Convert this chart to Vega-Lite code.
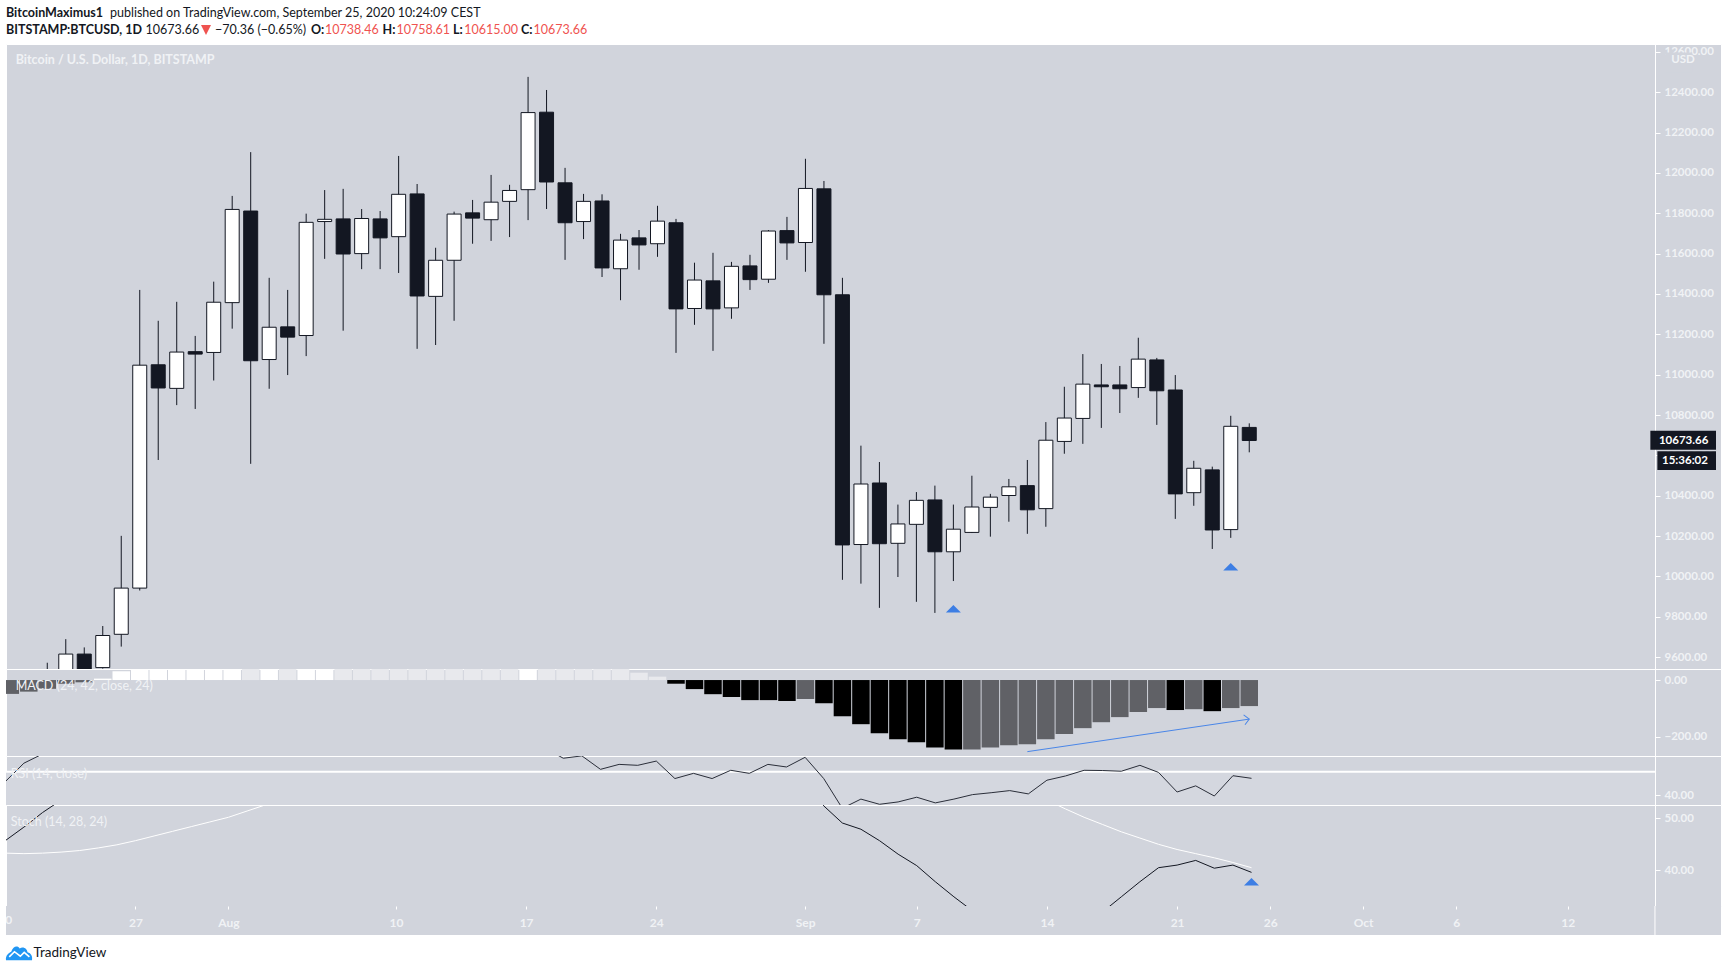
{
  "$schema": "https://vega.github.io/schema/vega-lite/v6.json",
  "background": "#ffffff",
  "padding": {"left": 1, "top": 0, "right": 7, "bottom": 0},
  "spacing": 0,
  "bounds": "flush",
  "datasets": {
    "candles": [
      {"date": "2020-07-22", "open": 9480, "high": 9572, "low": 9450, "close": 9500},
      {"date": "2020-07-23", "open": 9500, "high": 9689, "low": 9470, "close": 9615},
      {"date": "2020-07-24", "open": 9615, "high": 9648, "low": 9400, "close": 9430},
      {"date": "2020-07-25", "open": 9548, "high": 9754, "low": 9543, "close": 9707},
      {"date": "2020-07-26", "open": 9713, "high": 10201, "low": 9652, "close": 9942},
      {"date": "2020-07-27", "open": 9942, "high": 11420, "low": 9930, "close": 11047},
      {"date": "2020-07-28", "open": 11049, "high": 11267, "low": 10577, "close": 10934},
      {"date": "2020-07-29", "open": 10932, "high": 11361, "low": 10849, "close": 11112},
      {"date": "2020-07-30", "open": 11114, "high": 11192, "low": 10830, "close": 11102},
      {"date": "2020-07-31", "open": 11110, "high": 11461, "low": 10971, "close": 11359},
      {"date": "2020-08-01", "open": 11357, "high": 11886, "low": 11228, "close": 11819},
      {"date": "2020-08-02", "open": 11811, "high": 12103, "low": 10558, "close": 11069},
      {"date": "2020-08-03", "open": 11075, "high": 11480, "low": 10930, "close": 11235},
      {"date": "2020-08-04", "open": 11237, "high": 11420, "low": 10998, "close": 11186},
      {"date": "2020-08-05", "open": 11194, "high": 11798, "low": 11092, "close": 11755},
      {"date": "2020-08-06", "open": 11759, "high": 11915, "low": 11574, "close": 11770},
      {"date": "2020-08-07", "open": 11772, "high": 11921, "low": 11218, "close": 11598},
      {"date": "2020-08-08", "open": 11600, "high": 11821, "low": 11523, "close": 11774},
      {"date": "2020-08-09", "open": 11772, "high": 11811, "low": 11523, "close": 11678},
      {"date": "2020-08-10", "open": 11684, "high": 12084, "low": 11504, "close": 11894},
      {"date": "2020-08-11", "open": 11896, "high": 11945, "low": 11128, "close": 11390},
      {"date": "2020-08-12", "open": 11388, "high": 11629, "low": 11147, "close": 11567},
      {"date": "2020-08-13", "open": 11567, "high": 11808, "low": 11267, "close": 11796},
      {"date": "2020-08-14", "open": 11802, "high": 11866, "low": 11649, "close": 11776},
      {"date": "2020-08-15", "open": 11768, "high": 11990, "low": 11663, "close": 11855},
      {"date": "2020-08-16", "open": 11859, "high": 11941, "low": 11682, "close": 11913},
      {"date": "2020-08-17", "open": 11917, "high": 12476, "low": 11766, "close": 12299},
      {"date": "2020-08-18", "open": 12301, "high": 12411, "low": 11821, "close": 11955},
      {"date": "2020-08-19", "open": 11951, "high": 12025, "low": 11569, "close": 11753},
      {"date": "2020-08-20", "open": 11759, "high": 11896, "low": 11672, "close": 11859},
      {"date": "2020-08-21", "open": 11861, "high": 11894, "low": 11484, "close": 11529},
      {"date": "2020-08-22", "open": 11525, "high": 11698, "low": 11369, "close": 11667},
      {"date": "2020-08-23", "open": 11678, "high": 11717, "low": 11520, "close": 11643},
      {"date": "2020-08-24", "open": 11649, "high": 11837, "low": 11584, "close": 11761},
      {"date": "2020-08-25", "open": 11753, "high": 11772, "low": 11108, "close": 11326},
      {"date": "2020-08-26", "open": 11328, "high": 11555, "low": 11247, "close": 11469},
      {"date": "2020-08-27", "open": 11465, "high": 11604, "low": 11118, "close": 11326},
      {"date": "2020-08-28", "open": 11331, "high": 11559, "low": 11277, "close": 11537},
      {"date": "2020-08-29", "open": 11539, "high": 11594, "low": 11420, "close": 11471},
      {"date": "2020-08-30", "open": 11473, "high": 11717, "low": 11455, "close": 11712},
      {"date": "2020-08-31", "open": 11714, "high": 11782, "low": 11569, "close": 11653},
      {"date": "2020-09-01", "open": 11655, "high": 12070, "low": 11510, "close": 11923},
      {"date": "2020-09-02", "open": 11921, "high": 11960, "low": 11153, "close": 11396},
      {"date": "2020-09-03", "open": 11396, "high": 11480, "low": 9983, "close": 10156},
      {"date": "2020-09-04", "open": 10158, "high": 10648, "low": 9964, "close": 10458},
      {"date": "2020-09-05", "open": 10463, "high": 10567, "low": 9844, "close": 10162},
      {"date": "2020-09-06", "open": 10164, "high": 10356, "low": 9997, "close": 10260},
      {"date": "2020-09-07", "open": 10258, "high": 10418, "low": 9874, "close": 10377},
      {"date": "2020-09-08", "open": 10379, "high": 10450, "low": 9819, "close": 10122},
      {"date": "2020-09-09", "open": 10122, "high": 10356, "low": 9977, "close": 10234},
      {"date": "2020-09-10", "open": 10218, "high": 10499, "low": 10215, "close": 10344},
      {"date": "2020-09-11", "open": 10342, "high": 10409, "low": 10197, "close": 10393},
      {"date": "2020-09-12", "open": 10401, "high": 10483, "low": 10271, "close": 10444},
      {"date": "2020-09-13", "open": 10450, "high": 10577, "low": 10211, "close": 10330},
      {"date": "2020-09-14", "open": 10336, "high": 10765, "low": 10246, "close": 10675},
      {"date": "2020-09-15", "open": 10669, "high": 10940, "low": 10608, "close": 10785},
      {"date": "2020-09-16", "open": 10783, "high": 11102, "low": 10657, "close": 10953},
      {"date": "2020-09-17", "open": 10949, "high": 11053, "low": 10736, "close": 10940},
      {"date": "2020-09-18", "open": 10949, "high": 11043, "low": 10810, "close": 10930},
      {"date": "2020-09-19", "open": 10936, "high": 11183, "low": 10885, "close": 11077},
      {"date": "2020-09-20", "open": 11073, "high": 11083, "low": 10751, "close": 10920},
      {"date": "2020-09-21", "open": 10924, "high": 10998, "low": 10285, "close": 10409},
      {"date": "2020-09-22", "open": 10415, "high": 10573, "low": 10350, "close": 10536},
      {"date": "2020-09-23", "open": 10528, "high": 10544, "low": 10136, "close": 10230},
      {"date": "2020-09-24", "open": 10232, "high": 10796, "low": 10191, "close": 10744},
      {"date": "2020-09-25", "open": 10738.46, "high": 10758.61, "low": 10615, "close": 10673.66}
    ],
    "macd": [
      {"date": "2020-07-20", "hist": -49, "state": "neg_up"},
      {"date": "2020-07-21", "hist": -41, "state": "neg_up"},
      {"date": "2020-07-22", "hist": -31, "state": "neg_up"},
      {"date": "2020-07-23", "hist": -13, "state": "neg_up"},
      {"date": "2020-07-24", "hist": -8, "state": "neg_up"},
      {"date": "2020-07-25", "hist": 5, "state": "pos_up"},
      {"date": "2020-07-26", "hist": 31, "state": "pos_up"},
      {"date": "2020-07-27", "hist": 60, "state": "pos_up"},
      {"date": "2020-07-28", "hist": 70, "state": "pos_up"},
      {"date": "2020-07-29", "hist": 80, "state": "pos_up"},
      {"date": "2020-07-30", "hist": 90, "state": "pos_up"},
      {"date": "2020-07-31", "hist": 100, "state": "pos_up"},
      {"date": "2020-08-01", "hist": 110, "state": "pos_up"},
      {"date": "2020-08-02", "hist": 105, "state": "pos_down"},
      {"date": "2020-08-03", "hist": 108, "state": "pos_up"},
      {"date": "2020-08-04", "hist": 104, "state": "pos_down"},
      {"date": "2020-08-05", "hist": 110, "state": "pos_up"},
      {"date": "2020-08-06", "hist": 114, "state": "pos_up"},
      {"date": "2020-08-07", "hist": 110, "state": "pos_down"},
      {"date": "2020-08-08", "hist": 106, "state": "pos_down"},
      {"date": "2020-08-09", "hist": 100, "state": "pos_down"},
      {"date": "2020-08-10", "hist": 96, "state": "pos_down"},
      {"date": "2020-08-11", "hist": 90, "state": "pos_down"},
      {"date": "2020-08-12", "hist": 84, "state": "pos_down"},
      {"date": "2020-08-13", "hist": 78, "state": "pos_down"},
      {"date": "2020-08-14", "hist": 72, "state": "pos_down"},
      {"date": "2020-08-15", "hist": 68, "state": "pos_down"},
      {"date": "2020-08-16", "hist": 64, "state": "pos_down"},
      {"date": "2020-08-17", "hist": 70, "state": "pos_up"},
      {"date": "2020-08-18", "hist": 66, "state": "pos_down"},
      {"date": "2020-08-19", "hist": 60, "state": "pos_down"},
      {"date": "2020-08-20", "hist": 55, "state": "pos_down"},
      {"date": "2020-08-21", "hist": 44, "state": "pos_down"},
      {"date": "2020-08-22", "hist": 39, "state": "pos_down"},
      {"date": "2020-08-23", "hist": 26, "state": "pos_down"},
      {"date": "2020-08-24", "hist": 12, "state": "pos_down"},
      {"date": "2020-08-25", "hist": -13, "state": "neg_down"},
      {"date": "2020-08-26", "hist": -32, "state": "neg_down"},
      {"date": "2020-08-27", "hist": -50, "state": "neg_down"},
      {"date": "2020-08-28", "hist": -60, "state": "neg_down"},
      {"date": "2020-08-29", "hist": -71, "state": "neg_down"},
      {"date": "2020-08-30", "hist": -71, "state": "neg_down"},
      {"date": "2020-08-31", "hist": -74, "state": "neg_down"},
      {"date": "2020-09-01", "hist": -67, "state": "neg_up"},
      {"date": "2020-09-02", "hist": -82, "state": "neg_down"},
      {"date": "2020-09-03", "hist": -128, "state": "neg_down"},
      {"date": "2020-09-04", "hist": -156, "state": "neg_down"},
      {"date": "2020-09-05", "hist": -188, "state": "neg_down"},
      {"date": "2020-09-06", "hist": -209, "state": "neg_down"},
      {"date": "2020-09-07", "hist": -220, "state": "neg_down"},
      {"date": "2020-09-08", "hist": -238, "state": "neg_down"},
      {"date": "2020-09-09", "hist": -245, "state": "neg_down"},
      {"date": "2020-09-10", "hist": -245, "state": "neg_up"},
      {"date": "2020-09-11", "hist": -238, "state": "neg_up"},
      {"date": "2020-09-12", "hist": -230, "state": "neg_up"},
      {"date": "2020-09-13", "hist": -227, "state": "neg_up"},
      {"date": "2020-09-14", "hist": -209, "state": "neg_up"},
      {"date": "2020-09-15", "hist": -191, "state": "neg_up"},
      {"date": "2020-09-16", "hist": -170, "state": "neg_up"},
      {"date": "2020-09-17", "hist": -149, "state": "neg_up"},
      {"date": "2020-09-18", "hist": -131, "state": "neg_up"},
      {"date": "2020-09-19", "hist": -113, "state": "neg_up"},
      {"date": "2020-09-20", "hist": -99, "state": "neg_up"},
      {"date": "2020-09-21", "hist": -106, "state": "neg_down"},
      {"date": "2020-09-22", "hist": -103, "state": "neg_up"},
      {"date": "2020-09-23", "hist": -110, "state": "neg_down"},
      {"date": "2020-09-24", "hist": -99, "state": "neg_up"},
      {"date": "2020-09-25", "hist": -92, "state": "neg_up"}
    ],
    "osc": [
      {"date": "2020-07-20", "rsi": 45.8, "k": 45.7, "d": 43.3},
      {"date": "2020-07-21", "rsi": 53.6, "k": 48.3, "d": 43.2},
      {"date": "2020-07-22", "rsi": 57.5, "k": 51.1, "d": 43.3},
      {"date": "2020-07-23", "rsi": 60, "k": 53.5, "d": 43.5},
      {"date": "2020-07-24", "rsi": 61, "k": 56, "d": 43.8},
      {"date": "2020-07-25", "rsi": 62, "k": 60, "d": 44.3},
      {"date": "2020-07-26", "rsi": 64, "k": 64, "d": 44.9},
      {"date": "2020-07-27", "rsi": 72, "k": 72, "d": 45.7},
      {"date": "2020-07-28", "rsi": 70, "k": 74, "d": 46.6},
      {"date": "2020-07-29", "rsi": 71, "k": 76, "d": 47.5},
      {"date": "2020-07-30", "rsi": 71, "k": 77, "d": 48.4},
      {"date": "2020-07-31", "rsi": 72, "k": 78, "d": 49.3},
      {"date": "2020-08-01", "rsi": 74, "k": 82, "d": 50.2},
      {"date": "2020-08-02", "rsi": 66, "k": 80, "d": 51.4},
      {"date": "2020-08-03", "rsi": 67, "k": 80, "d": 52.6},
      {"date": "2020-08-04", "rsi": 65, "k": 79, "d": 54},
      {"date": "2020-08-05", "rsi": 70, "k": 80, "d": 56},
      {"date": "2020-08-06", "rsi": 70, "k": 82, "d": 58},
      {"date": "2020-08-07", "rsi": 66, "k": 81, "d": 60},
      {"date": "2020-08-08", "rsi": 67, "k": 81, "d": 62},
      {"date": "2020-08-09", "rsi": 66, "k": 80, "d": 64},
      {"date": "2020-08-10", "rsi": 68, "k": 82, "d": 66},
      {"date": "2020-08-11", "rsi": 62, "k": 79, "d": 67},
      {"date": "2020-08-12", "rsi": 64, "k": 78, "d": 68},
      {"date": "2020-08-13", "rsi": 66, "k": 79, "d": 69},
      {"date": "2020-08-14", "rsi": 65, "k": 80, "d": 70},
      {"date": "2020-08-15", "rsi": 66, "k": 82, "d": 71},
      {"date": "2020-08-16", "rsi": 67, "k": 83, "d": 72},
      {"date": "2020-08-17", "rsi": 70, "k": 85, "d": 73},
      {"date": "2020-08-18", "rsi": 60, "k": 84, "d": 74},
      {"date": "2020-08-19", "rsi": 55.7, "k": 82, "d": 74},
      {"date": "2020-08-20", "rsi": 56.7, "k": 80, "d": 75},
      {"date": "2020-08-21", "rsi": 51, "k": 77, "d": 75},
      {"date": "2020-08-22", "rsi": 53.1, "k": 75, "d": 75},
      {"date": "2020-08-23", "rsi": 52.7, "k": 73, "d": 75},
      {"date": "2020-08-24", "rsi": 54.5, "k": 72, "d": 75},
      {"date": "2020-08-25", "rsi": 47.1, "k": 69, "d": 75},
      {"date": "2020-08-26", "rsi": 49.3, "k": 67, "d": 74},
      {"date": "2020-08-27", "rsi": 47.1, "k": 65, "d": 74},
      {"date": "2020-08-28", "rsi": 50.6, "k": 64, "d": 74},
      {"date": "2020-08-29", "rsi": 49.3, "k": 63, "d": 73},
      {"date": "2020-08-30", "rsi": 53.1, "k": 63, "d": 73},
      {"date": "2020-08-31", "rsi": 52, "k": 62, "d": 72},
      {"date": "2020-09-01", "rsi": 56.1, "k": 60, "d": 72},
      {"date": "2020-09-02", "rsi": 47.1, "k": 52.4, "d": 71},
      {"date": "2020-09-03", "rsi": 34.5, "k": 49.1, "d": 70},
      {"date": "2020-09-04", "rsi": 38.4, "k": 47.9, "d": 69},
      {"date": "2020-09-05", "rsi": 36.2, "k": 45.7, "d": 68},
      {"date": "2020-09-06", "rsi": 37.2, "k": 43.1, "d": 67},
      {"date": "2020-09-07", "rsi": 39.2, "k": 40.9, "d": 66},
      {"date": "2020-09-08", "rsi": 36.8, "k": 37.8, "d": 65},
      {"date": "2020-09-09", "rsi": 38.4, "k": 34.9, "d": 64},
      {"date": "2020-09-10", "rsi": 40.3, "k": 32.2, "d": 63},
      {"date": "2020-09-11", "rsi": 41.1, "k": 31, "d": 62},
      {"date": "2020-09-12", "rsi": 42, "k": 30, "d": 60},
      {"date": "2020-09-13", "rsi": 40.6, "k": 30, "d": 57},
      {"date": "2020-09-14", "rsi": 46.4, "k": 30, "d": 53.5},
      {"date": "2020-09-15", "rsi": 48.2, "k": 30, "d": 51.8},
      {"date": "2020-09-16", "rsi": 50.6, "k": 30, "d": 50.2},
      {"date": "2020-09-17", "rsi": 50.5, "k": 32, "d": 48.8},
      {"date": "2020-09-18", "rsi": 50.2, "k": 34.9, "d": 47.4},
      {"date": "2020-09-19", "rsi": 52.7, "k": 37.8, "d": 46.2},
      {"date": "2020-09-20", "rsi": 49.7, "k": 40.5, "d": 45},
      {"date": "2020-09-21", "rsi": 41.4, "k": 41, "d": 44},
      {"date": "2020-09-22", "rsi": 44, "k": 41.9, "d": 43.2},
      {"date": "2020-09-23", "rsi": 39.7, "k": 40.4, "d": 42.4},
      {"date": "2020-09-24", "rsi": 48.3, "k": 41, "d": 41.5},
      {"date": "2020-09-25", "rsi": 47.2, "k": 39.6, "d": 40.5}
    ]
  },
  "vconcat": [
    {
      "width": 1715,
      "height": 44,
      "view": {"fill": null, "stroke": null},
      "data": {"values": [{}]},
      "encoding": {
        "x": {"datum": 6, "type": "quantitative", "scale": {"domain": [6, 1721]}, "axis": null},
        "y": {"datum": 13, "type": "quantitative", "scale": {"domain": [44, 0]}, "axis": null}
      },
      "layer": [
        {"mark": {"type": "text", "align": "left", "font": "Lato", "fontSize": 12.5, "fontWeight": "bold", "color": "#131722", "text": "BitcoinMaximus1"}, "encoding": {"x": {"datum": 6}, "y": {"datum": 13}}},
        {"mark": {"type": "text", "align": "left", "font": "Lato", "fontSize": 12.5, "color": "#131722", "text": "published on TradingView.com, September 25, 2020 10:24:09 CEST"}, "encoding": {"x": {"datum": 110}, "y": {"datum": 13}}},
        {"mark": {"type": "text", "align": "left", "font": "Lato", "fontSize": 12.5, "fontWeight": "bold", "color": "#131722", "text": "BITSTAMP:BTCUSD, 1D"}, "encoding": {"x": {"datum": 6}, "y": {"datum": 30}}},
        {"mark": {"type": "text", "align": "left", "font": "Lato", "fontSize": 12.5, "color": "#131722", "text": "10673.66"}, "encoding": {"x": {"datum": 145.5}, "y": {"datum": 30}}},
        {"mark": {"type": "point", "filled": true, "opacity": 1, "color": "#ef5350", "shape": "M-1,-1L1,-1L0,1Z", "size": 100}, "encoding": {"x": {"datum": 206}, "y": {"datum": 30}}},
        {"mark": {"type": "text", "align": "left", "font": "Lato", "fontSize": 12.5, "color": "#131722", "text": "−70.36 (−0.65%)"}, "encoding": {"x": {"datum": 215}, "y": {"datum": 30}}},
        {"mark": {"type": "text", "align": "left", "font": "Lato", "fontSize": 12.5, "fontWeight": "bold", "color": "#131722", "text": "O:"}, "encoding": {"x": {"datum": 311}, "y": {"datum": 30}}},
        {"mark": {"type": "text", "align": "left", "font": "Lato", "fontSize": 12.5, "color": "#ef5350", "text": "10738.46"}, "encoding": {"x": {"datum": 325}, "y": {"datum": 30}}},
        {"mark": {"type": "text", "align": "left", "font": "Lato", "fontSize": 12.5, "fontWeight": "bold", "color": "#131722", "text": "H:"}, "encoding": {"x": {"datum": 382.6}, "y": {"datum": 30}}},
        {"mark": {"type": "text", "align": "left", "font": "Lato", "fontSize": 12.5, "color": "#ef5350", "text": "10758.61"}, "encoding": {"x": {"datum": 396.4}, "y": {"datum": 30}}},
        {"mark": {"type": "text", "align": "left", "font": "Lato", "fontSize": 12.5, "fontWeight": "bold", "color": "#131722", "text": "L:"}, "encoding": {"x": {"datum": 453}, "y": {"datum": 30}}},
        {"mark": {"type": "text", "align": "left", "font": "Lato", "fontSize": 12.5, "color": "#ef5350", "text": "10615.00"}, "encoding": {"x": {"datum": 464.3}, "y": {"datum": 30}}},
        {"mark": {"type": "text", "align": "left", "font": "Lato", "fontSize": 12.5, "fontWeight": "bold", "color": "#131722", "text": "C:"}, "encoding": {"x": {"datum": 521}, "y": {"datum": 30}}},
        {"mark": {"type": "text", "align": "left", "font": "Lato", "fontSize": 12.5, "color": "#ef5350", "text": "10673.66"}, "encoding": {"x": {"datum": 533.5}, "y": {"datum": 30}}}
      ]
    },
    {
      "width": 1715,
      "height": 625,
      "view": {"fill": "#d1d4dc", "stroke": "#ffffff", "strokeWidth": 1},
      "layer": [
        {
          "data": {"name": "candles"},
          "mark": {"type": "rule", "color": "#131722", "strokeWidth": 1, "clip": true},
          "encoding": {
            "x": {"field": "date", "type": "temporal", "scale": {"type": "utc", "domain": ["2020-07-20T00:55:00Z", "2020-10-20T05:46:00Z"]}, "axis": null},
            "y": {
              "field": "low",
              "type": "quantitative",
              "scale": {"domain": [9541, 12639], "nice": false, "zero": false},
              "axis": {
                "orient": "right",
                "offset": -66,
                "title": null,
                "grid": false,
                "values": [9600, 9800, 10000, 10200, 10400, 10600, 10800, 11000, 11200, 11400, 11600, 11800, 12000, 12200, 12400, 12600],
                "format": ".2f",
                "domainColor": "#ffffff",
                "tickColor": "#ffffff",
                "tickSize": 5,
                "labelColor": "#f0f2f5",
                "labelFont": "Lato",
                "labelFontSize": 11.5,
                "labelFontWeight": "bold",
                "labelPadding": 4,
                "labelOverlap": false,
                "labelFlush": false
              }
            },
            "y2": {"field": "high"}
          }
        },
        {
          "data": {"name": "candles"},
          "mark": {"type": "bar", "size": 14, "stroke": "#131722", "strokeWidth": 1, "clip": true},
          "encoding": {
            "x": {"field": "date", "type": "temporal"},
            "y": {"field": "open", "type": "quantitative"},
            "y2": {"field": "close"},
            "color": {"condition": {"test": "datum.close >= datum.open", "value": "#ffffff"}, "value": "#131722"}
          }
        },
        {
          "data": {"values": [{"date": "2020-09-09", "price": 9840}, {"date": "2020-09-24", "price": 10048}]},
          "mark": {"type": "point", "filled": true, "opacity": 1, "color": "#3d7ee4", "shape": "M-1,0.5L0,-0.5L1,0.5Z", "size": 225},
          "encoding": {
            "x": {"field": "date", "type": "temporal"},
            "y": {"field": "price", "type": "quantitative"}
          }
        },
        {
          "data": {"values": [{"date": "2020-07-20T07:00:00Z", "price": 12560, "label": "Bitcoin / U.S. Dollar, 1D, BITSTAMP"}]},
          "mark": {"type": "text", "align": "left", "font": "Lato", "fontSize": 12.5, "fontWeight": "bold", "color": "#f0f2f5"},
          "encoding": {
            "x": {"field": "date", "type": "temporal"},
            "y": {"field": "price", "type": "quantitative"},
            "text": {"field": "label"}
          }
        },
        {
          "data": {"values": [
            {"date": "2020-10-17T12:00:00Z", "date2": "2020-10-18T23:00:00Z", "p": 12597, "p2": 12500},
            {"date": "2020-10-16T16:34:00Z", "date2": "2020-10-20T05:46:00Z", "p": 10722, "p2": 10628},
            {"date": "2020-10-17T01:40:00Z", "date2": "2020-10-20T05:46:00Z", "p": 10620, "p2": 10528}
          ]},
          "mark": {"type": "rect"},
          "encoding": {
            "x": {"field": "date", "type": "temporal"},
            "x2": {"field": "date2"},
            "y": {"field": "p", "type": "quantitative"},
            "y2": {"field": "p2"},
            "color": {"condition": {"test": "datum.p > 12000", "value": "#d1d4dc"}, "value": "#131722"}
          }
        },
        {
          "data": {"values": [
            {"date": "2020-10-18T11:00:00Z", "price": 12558, "label": "USD", "w": "soft"},
            {"date": "2020-10-18T11:45:00Z", "price": 10670, "label": "10673.66", "w": "box"},
            {"date": "2020-10-18T13:30:00Z", "price": 10571, "label": "15:36:02", "w": "box"}
          ]},
          "mark": {"type": "text", "align": "center", "font": "Lato", "fontSize": 11.5, "fontWeight": "bold"},
          "encoding": {
            "x": {"field": "date", "type": "temporal"},
            "y": {"field": "price", "type": "quantitative"},
            "text": {"field": "label"},
            "color": {"condition": {"test": "datum.w == 'soft'", "value": "#f0f2f5"}, "value": "#ffffff"}
          }
        }
      ]
    },
    {
      "width": 1715,
      "height": 87,
      "view": {"fill": "#d1d4dc", "stroke": "#ffffff", "strokeWidth": 1},
      "layer": [
        {
          "data": {"name": "macd"},
          "mark": {"type": "bar", "size": 17.5, "clip": true},
          "encoding": {
            "x": {"field": "date", "type": "temporal", "scale": {"type": "utc", "domain": ["2020-07-20T00:55:00Z", "2020-10-20T05:46:00Z"]}, "axis": null},
            "y": {
              "field": "hist",
              "type": "quantitative",
              "stack": null,
              "scale": {"domain": [-268.4, 39], "nice": false},
              "axis": {
                "orient": "right",
                "offset": -66,
                "title": null,
                "grid": false,
                "values": [0, -200],
                "format": ".2f",
                "domainColor": "#ffffff",
                "tickColor": "#ffffff",
                "tickSize": 5,
                "labelColor": "#f0f2f5",
                "labelFont": "Lato",
                "labelFontSize": 11.5,
                "labelFontWeight": "bold",
                "labelPadding": 4
              }
            },
            "color": {
              "field": "state",
              "type": "nominal",
              "legend": null,
              "scale": {"domain": ["pos_up", "pos_down", "neg_down", "neg_up"], "range": ["#ffffff", "#e8e9ed", "#000000", "#606166"]}
            }
          }
        },
        {
          "data": {"values": [{"date": "2020-09-13", "v": -253}, {"date": "2020-09-25", "v": -138}]},
          "mark": {"type": "line", "color": "#4a86e8", "strokeWidth": 1},
          "encoding": {
            "x": {"field": "date", "type": "temporal"},
            "y": {"field": "v", "type": "quantitative"}
          }
        },
        {
          "data": {"values": [{"date": "2020-09-25", "v": -138}]},
          "mark": {"type": "point", "filled": false, "opacity": 1, "color": "#4a86e8", "strokeWidth": 1, "shape": "M-1,-1L0,0L-1,1", "size": 100, "angle": -8},
          "encoding": {
            "x": {"field": "date", "type": "temporal"},
            "y": {"field": "v", "type": "quantitative"}
          }
        },
        {
          "data": {"values": [{"date": "2020-07-20T07:00:00Z", "v": -22, "label": "MACD (24, 42, close, 24)"}]},
          "mark": {"type": "text", "align": "left", "font": "Lato", "fontSize": 12.5, "color": "#f0f2f5"},
          "encoding": {
            "x": {"field": "date", "type": "temporal"},
            "y": {"field": "v", "type": "quantitative"},
            "text": {"field": "label"}
          }
        }
      ]
    },
    {
      "width": 1715,
      "height": 49,
      "view": {"fill": "#d1d4dc", "stroke": "#ffffff", "strokeWidth": 1},
      "layer": [
        {
          "data": {"values": [{"date": "2020-07-20T00:55:00Z", "date2": "2020-10-16T16:34:00Z", "r": 50, "r2": 35.9}]},
          "mark": {"type": "rect", "color": "#d4d7df"},
          "encoding": {
            "x": {"field": "date", "type": "temporal", "scale": {"type": "utc", "domain": ["2020-07-20T00:55:00Z", "2020-10-20T05:46:00Z"]}, "axis": null},
            "x2": {"field": "date2"},
            "y": {
              "field": "r",
              "type": "quantitative",
              "scale": {"domain": [35.9, 56.65], "nice": false, "zero": false},
              "axis": {
                "orient": "right",
                "offset": -66,
                "title": null,
                "grid": false,
                "values": [40],
                "format": ".2f",
                "domainColor": "#ffffff",
                "tickColor": "#ffffff",
                "tickSize": 5,
                "labelColor": "#f0f2f5",
                "labelFont": "Lato",
                "labelFontSize": 11.5,
                "labelFontWeight": "bold",
                "labelPadding": 4
              }
            },
            "y2": {"field": "r2"}
          }
        },
        {
          "data": {"values": [{"date": "2020-07-20T00:55:00Z", "r": 50}, {"date": "2020-10-16T16:34:00Z", "r": 50}]},
          "mark": {"type": "line", "color": "#ffffff", "strokeWidth": 2},
          "encoding": {
            "x": {"field": "date", "type": "temporal"},
            "y": {"field": "r", "type": "quantitative"}
          }
        },
        {
          "data": {"name": "osc"},
          "mark": {"type": "line", "color": "#2a2e39", "strokeWidth": 1, "clip": true},
          "encoding": {
            "x": {"field": "date", "type": "temporal"},
            "y": {"field": "rsi", "type": "quantitative"}
          }
        },
        {
          "data": {"values": [{"date": "2020-07-20T07:00:00Z", "r": 49, "label": "RSI (14, close)"}]},
          "mark": {"type": "text", "align": "left", "font": "Lato", "fontSize": 12.5, "color": "#f0f2f5"},
          "encoding": {
            "x": {"field": "date", "type": "temporal"},
            "y": {"field": "r", "type": "quantitative"},
            "text": {"field": "label"}
          }
        }
      ]
    },
    {
      "width": 1715,
      "height": 101,
      "view": {"fill": "#d1d4dc", "stroke": "#ffffff", "strokeWidth": 1},
      "layer": [
        {
          "data": {"name": "osc"},
          "mark": {"type": "line", "color": "#ffffff", "strokeWidth": 1, "clip": true},
          "encoding": {
            "x": {"field": "date", "type": "temporal", "scale": {"type": "utc", "domain": ["2020-07-20T00:55:00Z", "2020-10-20T05:46:00Z"]}, "axis": null},
            "y": {
              "field": "d",
              "type": "quantitative",
              "scale": {"domain": [33.13, 52.56], "nice": false, "zero": false},
              "axis": {
                "orient": "right",
                "offset": -66,
                "title": null,
                "grid": false,
                "values": [40, 50],
                "format": ".2f",
                "domainColor": "#ffffff",
                "tickColor": "#ffffff",
                "tickSize": 5,
                "labelColor": "#f0f2f5",
                "labelFont": "Lato",
                "labelFontSize": 11.5,
                "labelFontWeight": "bold",
                "labelPadding": 4
              }
            }
          }
        },
        {
          "data": {"name": "osc"},
          "mark": {"type": "line", "color": "#131722", "strokeWidth": 1, "clip": true},
          "encoding": {
            "x": {"field": "date", "type": "temporal"},
            "y": {"field": "k", "type": "quantitative"}
          }
        },
        {
          "data": {"values": [{"date": "2020-09-25", "s": 37.8}]},
          "mark": {"type": "point", "filled": true, "opacity": 1, "color": "#3d7ee4", "shape": "M-1,0.5L0,-0.5L1,0.5Z", "size": 225},
          "encoding": {
            "x": {"field": "date", "type": "temporal"},
            "y": {"field": "s", "type": "quantitative"}
          }
        },
        {
          "data": {"values": [{"date": "2020-07-20T07:00:00Z", "s": 49.2, "label": "Stoch (14, 28, 24)"}]},
          "mark": {"type": "text", "align": "left", "font": "Lato", "fontSize": 12.5, "color": "#f0f2f5"},
          "encoding": {
            "x": {"field": "date", "type": "temporal"},
            "y": {"field": "s", "type": "quantitative"},
            "text": {"field": "label"}
          }
        }
      ]
    },
    {
      "width": 1715,
      "height": 29,
      "view": {"fill": "#d1d4dc", "stroke": null},
      "layer": [
        {
          "data": {"values": [{"date": "2020-07-20", "label": "20"}]},
          "mark": {"type": "text", "font": "Lato", "fontSize": 12, "fontWeight": "bold", "color": "#f0f2f5", "clip": true, "baseline": "middle", "dy": 1},
          "encoding": {
            "x": {
              "field": "date",
              "type": "temporal",
              "scale": {"type": "utc", "domain": ["2020-07-20T00:55:00Z", "2020-10-20T05:46:00Z"]},
              "axis": {
                "orient": "bottom",
                "offset": -29,
                "title": null,
                "grid": false,
                "domain": false,
                "values": ["2020-07-27T00:00:00Z", "2020-08-01T00:00:00Z", "2020-08-10T00:00:00Z", "2020-08-17T00:00:00Z", "2020-08-24T00:00:00Z", "2020-09-01T00:00:00Z", "2020-09-07T00:00:00Z", "2020-09-14T00:00:00Z", "2020-09-21T00:00:00Z", "2020-09-26T00:00:00Z", "2020-10-01T00:00:00Z", "2020-10-06T00:00:00Z", "2020-10-12T00:00:00Z"],
                "labelExpr": "utcdate(datum.value) == 1 ? utcFormat(datum.value, '%b') : utcFormat(datum.value, '%-d')",
                "tickColor": "#ffffff",
                "tickSize": 3,
                "labelColor": "#f0f2f5",
                "labelFont": "Lato",
                "labelFontSize": 12,
                "labelFontWeight": "bold",
                "labelPadding": 8,
                "labelOverlap": false,
                "labelFlush": false
              }
            },
            "y": {"datum": 0.45, "type": "quantitative", "scale": {"domain": [1, 0]}, "axis": null},
            "text": {"field": "label"}
          }
        },
        {
          "data": {"values": [{"date": "2020-10-16T16:34:00Z"}]},
          "mark": {"type": "rule", "color": "#ffffff", "strokeWidth": 1},
          "encoding": {"x": {"field": "date", "type": "temporal"}}
        }
      ]
    },
    {
      "width": 1715,
      "height": 37,
      "view": {"fill": null, "stroke": null},
      "data": {"values": [{}]},
      "encoding": {
        "x": {"datum": 6, "type": "quantitative", "scale": {"domain": [6, 1721]}, "axis": null},
        "y": {"datum": 953, "type": "quantitative", "scale": {"domain": [972, 935], "nice": false, "zero": false}, "axis": null}
      },
      "layer": [
        {"mark": {"type": "point", "filled": true, "opacity": 1, "color": "#2196f3", "shape": "M-1,0.55C-1.05,0.2,-0.8,0,-0.6,-0.1C-0.45,-0.55,-0.1,-0.6,0.05,-0.35C0.3,-0.55,0.65,-0.35,0.65,-0.05C0.95,0,1.05,0.3,1,0.55Z", "size": 676}, "encoding": {"x": {"datum": 19}, "y": {"datum": 953}}},
        {"mark": {"type": "point", "filled": false, "opacity": 1, "color": "#ffffff", "strokeWidth": 1.6, "shape": "M-0.75,0.3L-0.35,-0.1L0.1,0.25L0.4,-0.05L0.8,0.3", "size": 676}, "encoding": {"x": {"datum": 19}, "y": {"datum": 953}}},
        {"mark": {"type": "text", "align": "left", "font": "Lato", "fontSize": 13.5, "color": "#131722", "text": "TradingView"}, "encoding": {"x": {"datum": 33.5}, "y": {"datum": 953}}}
      ]
    }
  ],
  "config": {
    "axis": {"domainWidth": 1, "tickWidth": 1}
  }
}
